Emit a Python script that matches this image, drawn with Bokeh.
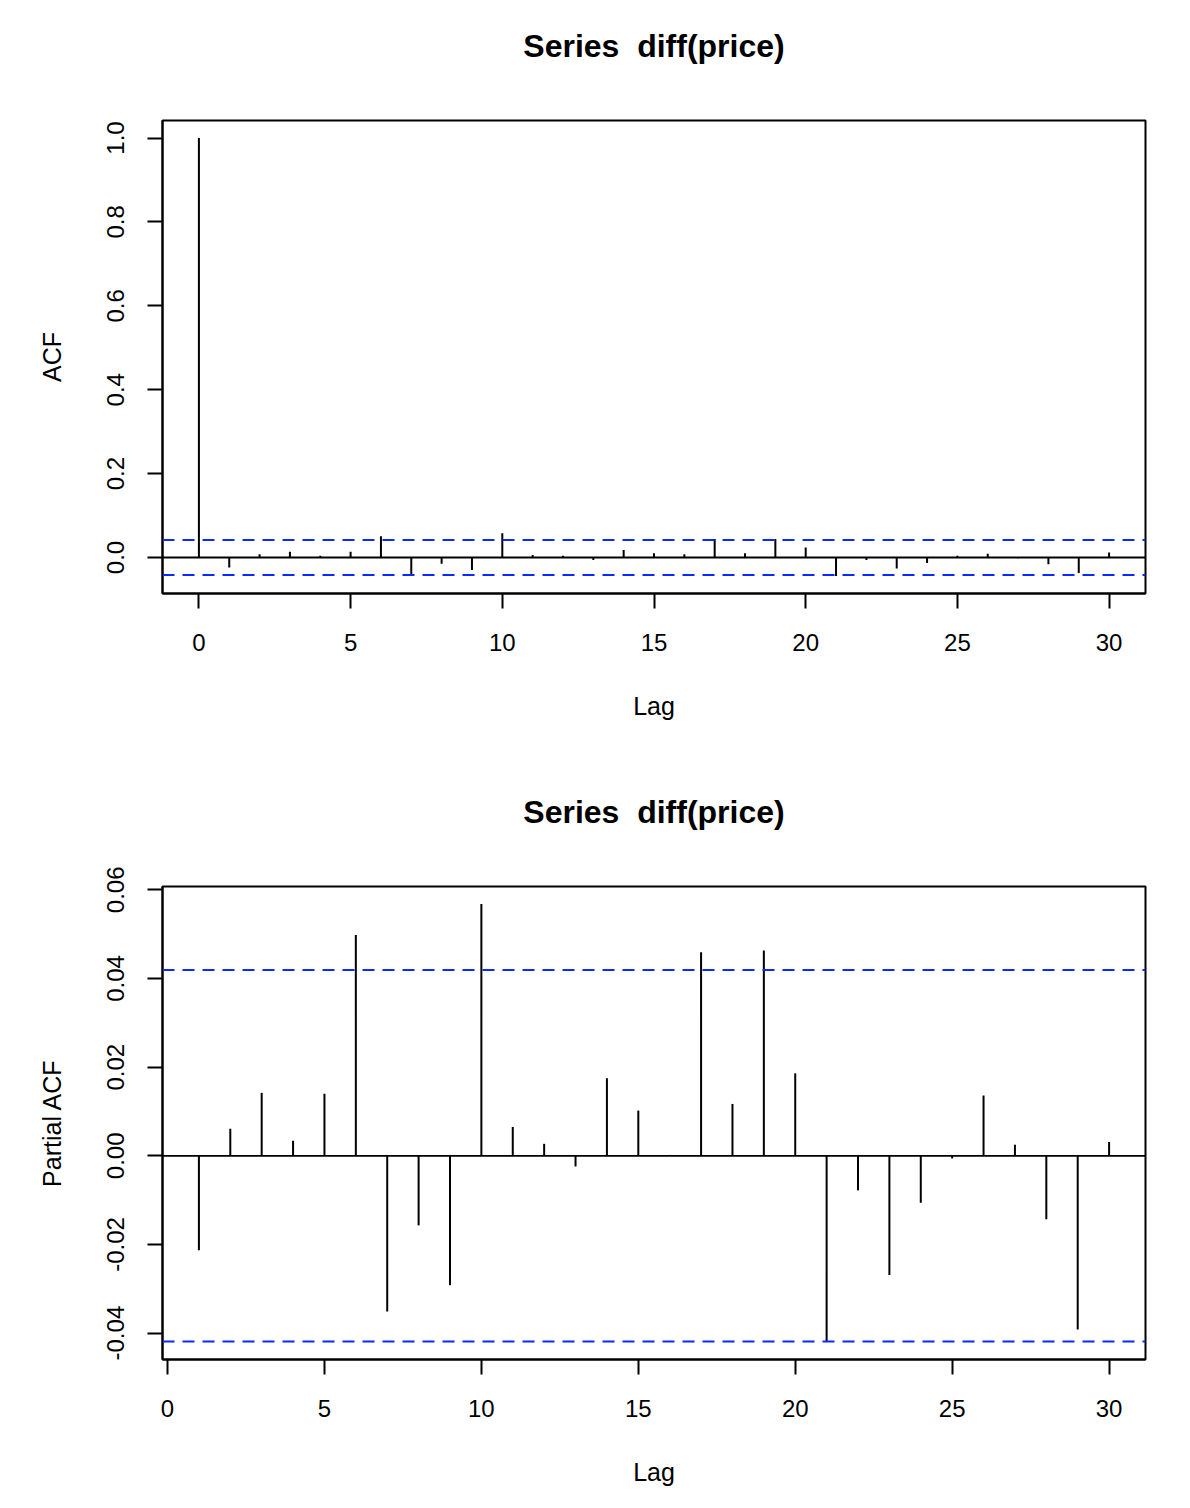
from bokeh.plotting import figure
from bokeh.models import Range1d, FixedTicker, NumeralTickFormatter, Span, Title
from bokeh.layouts import column
from bokeh.embed import file_html
from bokeh.resources import INLINE

# ---- data ----
acf_lags = list(range(0, 31))
acf_vals = [1.0, -0.024, 0.008, 0.014, 0.004, 0.014, 0.051, -0.039, -0.015, -0.030,
            0.058, 0.006, 0.004, -0.006, 0.018, 0.010, 0.008, 0.044, 0.010, 0.044,
            0.024, -0.044, -0.006, -0.026, -0.013, 0.004, 0.009, -0.002, -0.016, -0.037,
            0.012]
pacf_lags = list(range(1, 31))
pacf_vals = [-0.0213, 0.0061, 0.0142, 0.0034, 0.0140, 0.0498, -0.0351, -0.0157, -0.0292, 0.0568,
             0.0065, 0.0027, -0.0024, 0.0175, 0.0102, 0.0002, 0.0459, 0.0117, 0.0463, 0.0186,
             -0.0420, -0.0078, -0.0269, -0.0106, -0.0006, 0.0136, 0.0025, -0.0143, -0.0392, 0.0031]
ci = 0.0419
title_text = "Series \u00a0diff(price)"
acf_yticks = [0.0, 0.2, 0.4, 0.6, 0.8, 1.0]
pacf_yticks = [-0.04, -0.02, 0.0, 0.02, 0.04, 0.06]
xticks = [0, 5, 10, 15, 20, 25, 30]

FONT = "Liberation Sans"


def ext(lo, hi, f=0.04):
    d = (hi - lo) * f
    return lo - d, hi + d


def make(lags, vals, ylabel, yticks, yfmt, height, bottom):
    x0, x1 = ext(min(lags), max(lags))
    y0, y1 = ext(min(min(vals), -ci), max(max(vals), ci))
    p = figure(width=1182, height=height, output_backend="svg", toolbar_location=None,
               x_range=Range1d(x0, x1), y_range=Range1d(y0, y1),
               min_border_left=162, min_border_right=37, min_border_top=120,
               min_border_bottom=bottom)
    p.background_fill_color = "white"
    p.border_fill_color = "white"
    p.outline_line_color = "black"
    p.outline_line_width = 2
    p.xgrid.visible = False
    p.ygrid.visible = False

    # spacer (closest to the frame) so that the real title sits higher
    spacer = Title(text="\u00a0", align="center", text_font=FONT, text_font_size="10px",
                   text_color="white", standoff=19)
    p.add_layout(spacer, "above")
    t = Title(text=title_text, align="center", text_font=FONT,
              text_font_size="32px", text_font_style="bold", text_color="black", standoff=50)
    p.add_layout(t, "above")

    p.segment(x0=lags, y0=[0] * len(lags), x1=lags, y1=vals, line_color="black", line_width=2)
    p.add_layout(Span(location=0, dimension="width", line_color="black", line_width=1.8))
    for c in (ci, -ci):
        p.add_layout(Span(location=c, dimension="width", line_color="#0a2bff",
                          line_width=2, line_dash="12 8"))

    for ax in (p.xaxis[0], p.yaxis[0]):
        ax.axis_line_color = "black"
        ax.axis_line_width = 2
        ax.major_tick_line_color = "black"
        ax.major_tick_line_width = 2
        ax.major_tick_out = 15
        ax.major_tick_in = 0
        ax.minor_tick_line_color = None
        ax.major_label_text_font = FONT
        ax.major_label_text_font_size = "24px"
        ax.major_label_text_color = "black"
        ax.axis_label_text_font = FONT
        ax.axis_label_text_font_size = "25px"
        ax.axis_label_text_font_style = "normal"
        ax.axis_label_text_color = "black"

    p.xaxis.ticker = FixedTicker(ticks=xticks)
    p.xaxis.axis_label = "Lag"
    p.xaxis.major_label_standoff = 25
    p.xaxis.axis_label_standoff = 38

    p.yaxis.ticker = FixedTicker(ticks=yticks)
    p.yaxis.formatter = NumeralTickFormatter(format=yfmt)
    p.yaxis.major_label_orientation = "vertical"
    p.yaxis.major_label_standoff = 23
    p.yaxis.axis_label = ylabel
    p.yaxis.axis_label_standoff = 39
    return p


p1 = make(acf_lags, acf_vals, "ACF", acf_yticks, "0.0", 766, 173)
p2 = make(pacf_lags, pacf_vals, "Partial ACF", pacf_yticks, "0.00", 736, 143)

layout = column(p1, p2)
open("out.html", "w").write(file_html(layout, INLINE))
